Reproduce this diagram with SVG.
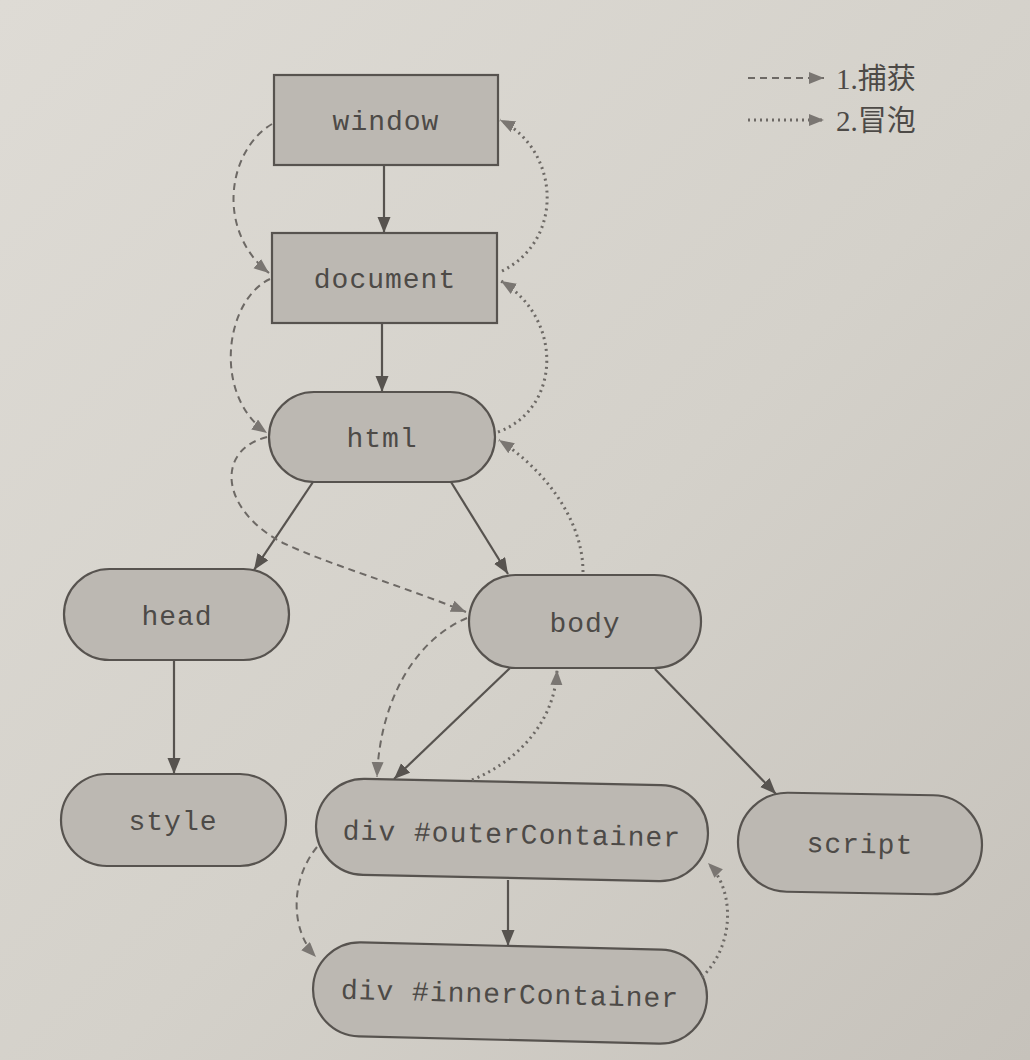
<svg xmlns="http://www.w3.org/2000/svg" width="1030" height="1060" viewBox="0 0 1030 1060">
<defs>
<linearGradient id="bg" x1="0" y1="0" x2="1" y2="1">
<stop offset="0" stop-color="#dedbd5"/>
<stop offset="0.55" stop-color="#d4d1ca"/>
<stop offset="1" stop-color="#c6c2bb"/>
</linearGradient>
<marker id="solid" markerUnits="userSpaceOnUse" markerWidth="18" markerHeight="14" refX="16" refY="6.5" orient="auto">
<path d="M0,0 L16,6.5 L0,13 Z" fill="#57534f"/>
</marker>
<marker id="light" markerUnits="userSpaceOnUse" markerWidth="18" markerHeight="14" refX="15" refY="6" orient="auto">
<path d="M0,0 L15,6 L0,12 Z" fill="#7a7672"/>
</marker>
<style>
.node{fill:#bcb8b2;stroke:#57534f;stroke-width:2.2}
.lbl{font-family:"Liberation Mono","DejaVu Sans Mono",monospace;font-size:28px;letter-spacing:1px;fill:#4d4a47;text-anchor:middle}
.tree{fill:none;stroke:#57534f;stroke-width:2.2;marker-end:url(#solid)}
.cap{fill:none;stroke:#6d6965;stroke-width:2;stroke-dasharray:7 5;marker-end:url(#light)}
.bub{fill:none;stroke:#6d6965;stroke-width:3;stroke-dasharray:2 4;marker-end:url(#light)}
.leg{font-family:"Liberation Serif","Noto Sans CJK SC",serif;font-size:29px;fill:#4d4a47}
</style>
</defs>
<rect x="0" y="0" width="1030" height="1060" fill="url(#bg)"/>

<g id="legend">
<path class="cap" d="M748,78 L824,78"/>
<text class="leg" x="836" y="89">1.捕获</text>
<path class="bub" d="M748,120 L824,120"/>
<text class="leg" x="836" y="131">2.冒泡</text>
</g>

<g id="node-window">
<rect class="node" x="274" y="75" width="224" height="90"/>
<text class="lbl" x="386" y="130">window</text>
</g>
<g id="node-document">
<rect class="node" x="272" y="233" width="225" height="90"/>
<text class="lbl" x="385" y="288">document</text>
</g>
<g id="node-html">
<rect class="node" x="269" y="392" width="226" height="90" rx="45"/>
<text class="lbl" x="382" y="447">html</text>
</g>
<g id="node-head">
<rect class="node" x="64" y="569" width="225" height="91" rx="45.5"/>
<text class="lbl" x="177" y="625">head</text>
</g>
<g id="node-body">
<rect class="node" x="469" y="575" width="232" height="93" rx="46.5"/>
<text class="lbl" x="585" y="632">body</text>
</g>
<g id="node-style">
<rect class="node" x="61" y="774" width="225" height="92" rx="46"/>
<text class="lbl" x="173" y="830">style</text>
</g>
<g id="node-outerContainer">
<rect class="node" x="316" y="782" width="392" height="96" rx="48" transform="rotate(1.2 512 830)"/>
<text class="lbl" x="512" y="843" transform="rotate(1.2 512 830)">div #outerContainer</text>
</g>
<g id="node-script">
<rect class="node" x="738" y="794" width="244" height="99" rx="49.5" transform="rotate(1 860 843)"/>
<text class="lbl" x="860" y="853" transform="rotate(1 860 843)">script</text>
</g>
<g id="node-innerContainer">
<rect class="node" x="313" y="946" width="394" height="94" rx="47" transform="rotate(1.4 510 993)"/>
<text class="lbl" x="510" y="1003" transform="rotate(1.4 510 993)">div #innerContainer</text>
</g>

<g id="connectors">
<path class="tree" d="M384,165 L384,233"/>
<path class="tree" d="M382,323 L382,392"/>
<path class="tree" d="M313,482 L254,570"/>
<path class="tree" d="M451,482 L508,574"/>
<path class="tree" d="M174,660 L174,774"/>
<path class="tree" d="M510,668 L394,779"/>
<path class="tree" d="M655,669 L776,794"/>
<path class="tree" d="M508,880 L508,946"/>

<path class="cap" d="M272,124 C228,150 215,230 269,273"/>
<path class="cap" d="M270,279 C225,300 212,395 267,433"/>
<path class="cap" d="M267,437 C215,450 220,510 283,543 C330,565 400,585 466,612"/>
<path class="cap" d="M467,618 C415,640 380,700 377,777"/>
<path class="cap" d="M317,847 C290,880 290,930 316,957"/>

<path class="bub" d="M702,977 C735,945 735,890 708,863"/>
<path class="bub" d="M472,780 C520,760 555,720 557,670"/>
<path class="bub" d="M583,572 C583,520 545,470 499,440"/>
<path class="bub" d="M498,432 C560,410 565,320 501,281"/>
<path class="bub" d="M502,271 C565,240 560,150 500,120"/>
</g>
</svg>
